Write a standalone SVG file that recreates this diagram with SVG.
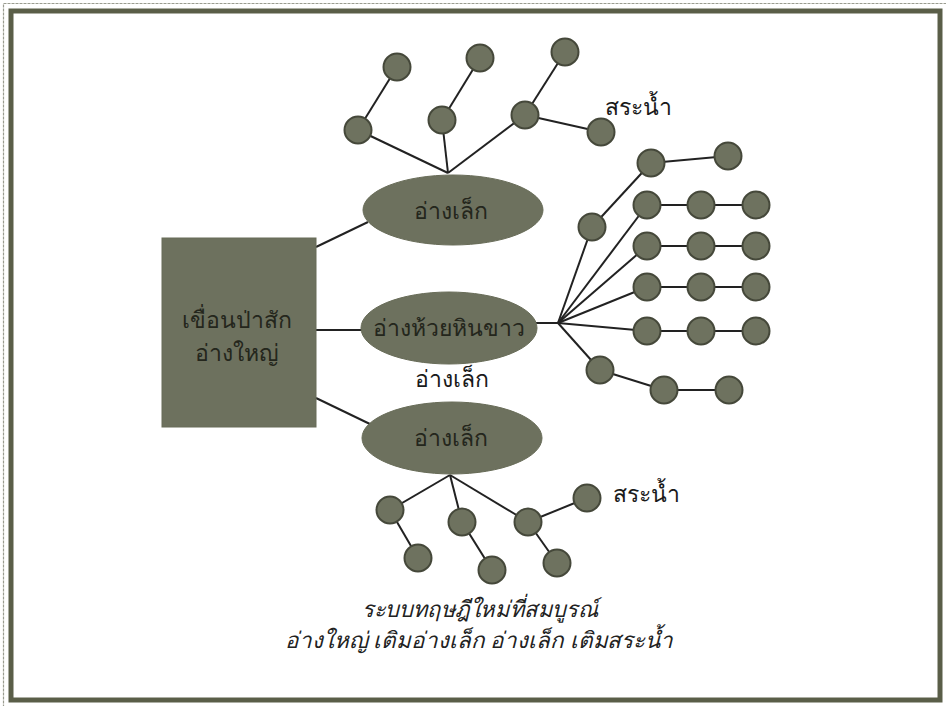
<svg xmlns="http://www.w3.org/2000/svg" width="946" height="706" viewBox="0 0 946 706">
<style>
.frame{fill:none;stroke:#5a5e48;stroke-width:5}
.thin{fill:none;stroke:#9a9c90;stroke-width:1.2;stroke-dasharray:3 1}
.shape{fill:#6d715e;stroke:#686c58;stroke-width:1}
.dot{fill:#6e725f;stroke:#45483a;stroke-width:2}
.lbl{font-family:"Noto Sans","DejaVu Sans",sans-serif;font-size:23px;fill:#24261c;text-anchor:middle}
.blk{font-family:"Noto Sans","DejaVu Sans",sans-serif;font-size:23px;fill:#1a1a1a;text-anchor:middle}
.cap{font-family:"Noto Sans","DejaVu Sans",sans-serif;font-size:22.5px;font-style:italic;font-weight:300;fill:#222;text-anchor:middle}
.ln{stroke:#222;stroke-width:2;fill:none}
</style>
<rect x="0" y="0" width="946" height="706" fill="#ffffff"/>
<rect class="thin" x="3.5" y="3.5" width="950" height="710"/>
<rect class="frame" x="11" y="11" width="929" height="689"/>
<g id="connectors">
<line class="ln" x1="316" y1="247" x2="368" y2="222"/>
<line class="ln" x1="316" y1="330" x2="362" y2="330"/>
<line class="ln" x1="316" y1="398" x2="372" y2="425"/>
<line class="ln" x1="448" y1="173" x2="358" y2="130"/>
<line class="ln" x1="448" y1="173" x2="442" y2="120"/>
<line class="ln" x1="448" y1="173" x2="525" y2="115"/>
<line class="ln" x1="358" y1="130" x2="397" y2="67"/>
<line class="ln" x1="442" y1="120" x2="480" y2="58"/>
<line class="ln" x1="525" y1="115" x2="565" y2="52"/>
<line class="ln" x1="525" y1="115" x2="601" y2="132"/>
<line class="ln" x1="536" y1="323" x2="558" y2="323"/>
<line class="ln" x1="558" y1="323" x2="592" y2="227"/>
<line class="ln" x1="592" y1="227" x2="651" y2="163"/>
<line class="ln" x1="651" y1="163" x2="728" y2="156"/>
<line class="ln" x1="558" y1="323" x2="647" y2="205"/>
<line class="ln" x1="558" y1="323" x2="647" y2="246"/>
<line class="ln" x1="558" y1="323" x2="647" y2="287"/>
<line class="ln" x1="558" y1="323" x2="647" y2="331"/>
<line class="ln" x1="647" y1="205" x2="756" y2="205"/>
<line class="ln" x1="647" y1="246" x2="756" y2="246"/>
<line class="ln" x1="647" y1="287" x2="756" y2="287"/>
<line class="ln" x1="647" y1="331" x2="756" y2="331"/>
<line class="ln" x1="558" y1="323" x2="600" y2="370"/>
<line class="ln" x1="600" y1="370" x2="664" y2="390"/>
<line class="ln" x1="664" y1="390" x2="729" y2="390"/>
<line class="ln" x1="450" y1="475" x2="390" y2="510"/>
<line class="ln" x1="450" y1="475" x2="462" y2="522"/>
<line class="ln" x1="450" y1="475" x2="528" y2="522"/>
<line class="ln" x1="390" y1="510" x2="418" y2="558"/>
<line class="ln" x1="462" y1="522" x2="492" y2="570"/>
<line class="ln" x1="528" y1="522" x2="557" y2="563"/>
<line class="ln" x1="528" y1="522" x2="587" y2="498"/>
</g>
<g id="dam">
<rect class="shape" x="162" y="238" width="154" height="189"/>
<text class="lbl" x="237" y="328">เขื่อนป่าสัก</text>
<text class="lbl" x="237" y="361">อ่างใหญ่</text>
</g>
<g id="pond-top">
<ellipse class="shape" cx="453" cy="210" rx="90" ry="35"/>
<text class="lbl" x="451" y="219">อ่างเล็ก</text>
</g>
<g id="pond-mid">
<ellipse class="shape" cx="449" cy="328" rx="88" ry="36"/>
<text class="lbl" x="449" y="336">อ่างห้วยหินขาว</text>
</g>
<g id="label-mid">
<text class="blk" x="452" y="387">อ่างเล็ก</text>
</g>
<g id="pond-bot">
<ellipse class="shape" cx="452" cy="438" rx="90" ry="36"/>
<text class="lbl" x="451" y="446">อ่างเล็ก</text>
</g>
<g id="ponds-top">
<circle class="dot" cx="358" cy="130" r="13.5"/>
<circle class="dot" cx="397" cy="67" r="13.5"/>
<circle class="dot" cx="442" cy="120" r="13.5"/>
<circle class="dot" cx="480" cy="58" r="13.5"/>
<circle class="dot" cx="525" cy="115" r="13.5"/>
<circle class="dot" cx="565" cy="52" r="13.5"/>
<circle class="dot" cx="601" cy="132" r="13.5"/>
<text class="blk" x="638" y="115">สระน้ำ</text>
</g>
<g id="ponds-mid">
<circle class="dot" cx="592" cy="227" r="13.5"/>
<circle class="dot" cx="651" cy="163" r="13.5"/>
<circle class="dot" cx="728" cy="156" r="13.5"/>
<circle class="dot" cx="647" cy="205" r="13.5"/>
<circle class="dot" cx="701" cy="205" r="13.5"/>
<circle class="dot" cx="756" cy="205" r="13.5"/>
<circle class="dot" cx="647" cy="246" r="13.5"/>
<circle class="dot" cx="701" cy="246" r="13.5"/>
<circle class="dot" cx="756" cy="246" r="13.5"/>
<circle class="dot" cx="647" cy="287" r="13.5"/>
<circle class="dot" cx="701" cy="287" r="13.5"/>
<circle class="dot" cx="756" cy="287" r="13.5"/>
<circle class="dot" cx="647" cy="331" r="13.5"/>
<circle class="dot" cx="701" cy="331" r="13.5"/>
<circle class="dot" cx="756" cy="331" r="13.5"/>
<circle class="dot" cx="600" cy="370" r="13.5"/>
<circle class="dot" cx="664" cy="390" r="13.5"/>
<circle class="dot" cx="729" cy="390" r="13.5"/>
</g>
<g id="ponds-bot">
<circle class="dot" cx="390" cy="510" r="13.5"/>
<circle class="dot" cx="418" cy="558" r="13.5"/>
<circle class="dot" cx="462" cy="522" r="13.5"/>
<circle class="dot" cx="492" cy="570" r="13.5"/>
<circle class="dot" cx="528" cy="522" r="13.5"/>
<circle class="dot" cx="557" cy="563" r="13.5"/>
<circle class="dot" cx="587" cy="498" r="13.5"/>
<text class="blk" x="646" y="502">สระน้ำ</text>
</g>
<g id="caption">
<text class="cap" x="480" y="617" textLength="236" lengthAdjust="spacingAndGlyphs">ระบบทฤษฎีใหม่ที่สมบูรณ์</text>
<text class="cap" x="479" y="648" textLength="388" lengthAdjust="spacingAndGlyphs">อ่างใหญ่ เติมอ่างเล็ก อ่างเล็ก เติมสระน้ำ</text>
</g>
</svg>
